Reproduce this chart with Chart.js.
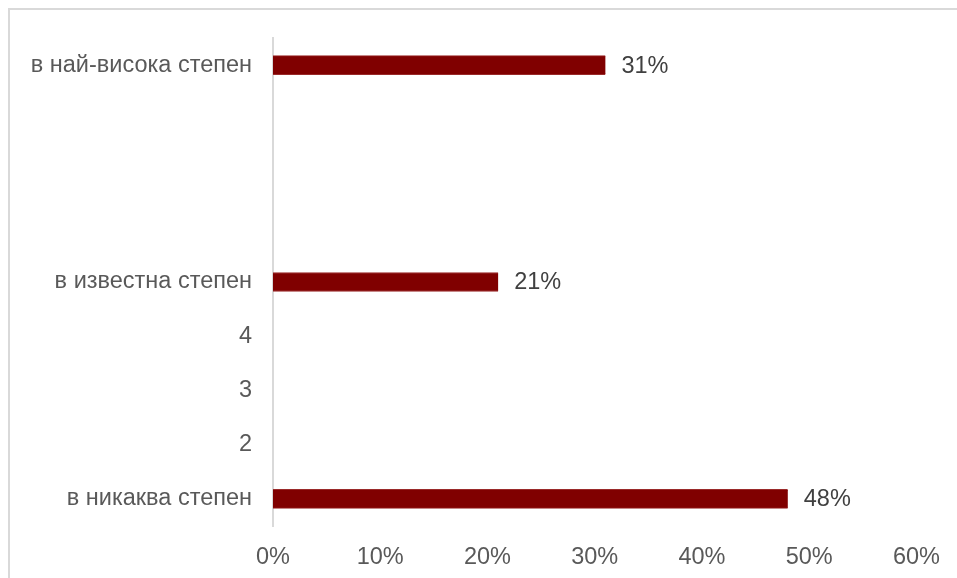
<!DOCTYPE html>
<html>
<head>
<meta charset="utf-8">
<script src="https://cdn.jsdelivr.net/npm/chart.js@4"></script>
<style>
    html, body { margin: 0; padding: 0; background: #fff; overflow: hidden; }
    #wrap { position: relative; width: 957px; height: 578px; }
</style>
</head>
<body>
<div id="wrap"><canvas id="degreeChart"></canvas></div>
<script>
const categories = ["в най-висока степен", "", "", "", "в известна степен", "4", "3", "2", "в никаква степен"];
const shares = [31, null, null, null, 21, null, null, null, 48];
const xTicks = [0, 10, 20, 30, 40, 50, 60];

const fontFamily = "'Liberation Sans', Arial, sans-serif";
const fontSize = 23.5;

// frame lines of the original chart box (top + left)
const frameLines = {
    id: "frameLines",
    beforeDraw(chart) {
        const ctx = chart.ctx;
        ctx.save();
        ctx.strokeStyle = "#d9d9d9";
        ctx.lineWidth = 2;
        ctx.beginPath();
        ctx.moveTo(9, 578);
        ctx.lineTo(9, 9);
        ctx.lineTo(957, 9);
        ctx.stroke();
        ctx.restore();
    },
};

// value labels to the right of the bars
const valueLabels = {
    id: "valueLabels",
    afterDatasetsDraw(chart) {
        const ctx = chart.ctx;
        const meta = chart.getDatasetMeta(0);
        ctx.save();
        ctx.font = fontSize + "px " + fontFamily;
        ctx.fillStyle = "#404040";
        ctx.textAlign = "left";
        ctx.textBaseline = "middle";
        meta.data.forEach((bar, i) => {
            const v = shares[i];
            if (v === null) return;
            ctx.fillText(v + "%", bar.x + 16, bar.y + 1);
        });
        ctx.restore();
    },
};

let ctx = document.getElementById("degreeChart").getContext("2d");

window.degreeChart = new Chart(ctx, {
    type: "bar",
    data: {
        labels: categories,
        datasets: [
            {
                data: shares,
                backgroundColor: "#800000",
                borderColor: "#9a2a2a",
                borderWidth: { top: 1, bottom: 1, left: 0, right: 0 },
                barThickness: 19,
            },
        ],
    },
    plugins: [frameLines, valueLabels],
    options: {
        indexAxis: "y",
        responsive: true,
        maintainAspectRatio: false,
        animation: false,
        layout: {
            padding: { left: 0, right: 39, top: 38, bottom: 0 },
        },
        scales: {
            x: {
                min: 0,
                max: 60,
                afterBuildTicks: (scale) => {
                    scale.ticks = xTicks.map((v) => ({ value: v }));
                },
                afterFit: (scale) => {
                    scale.height = 52;
                },
                grid: { display: false, drawTicks: false },
                border: { display: false },
                ticks: {
                    padding: 17,
                    color: "#595959",
                    font: { family: fontFamily, size: fontSize },
                    callback: (v) => v + "%",
                },
            },
            y: {
                afterFit: (scale) => {
                    scale.width = 273;
                },
                grid: { display: false, drawTicks: false },
                border: { display: true, color: "#d9d9d9", width: 2 },
                ticks: {
                    padding: 21,
                    color: "#595959",
                    autoSkip: false,
                    font: { family: fontFamily, size: fontSize },
                },
            },
        },
        plugins: {
            legend: { display: false },
            tooltip: { enabled: false },
            title: { display: false },
        },
    },
});
</script>
</body>
</html>
